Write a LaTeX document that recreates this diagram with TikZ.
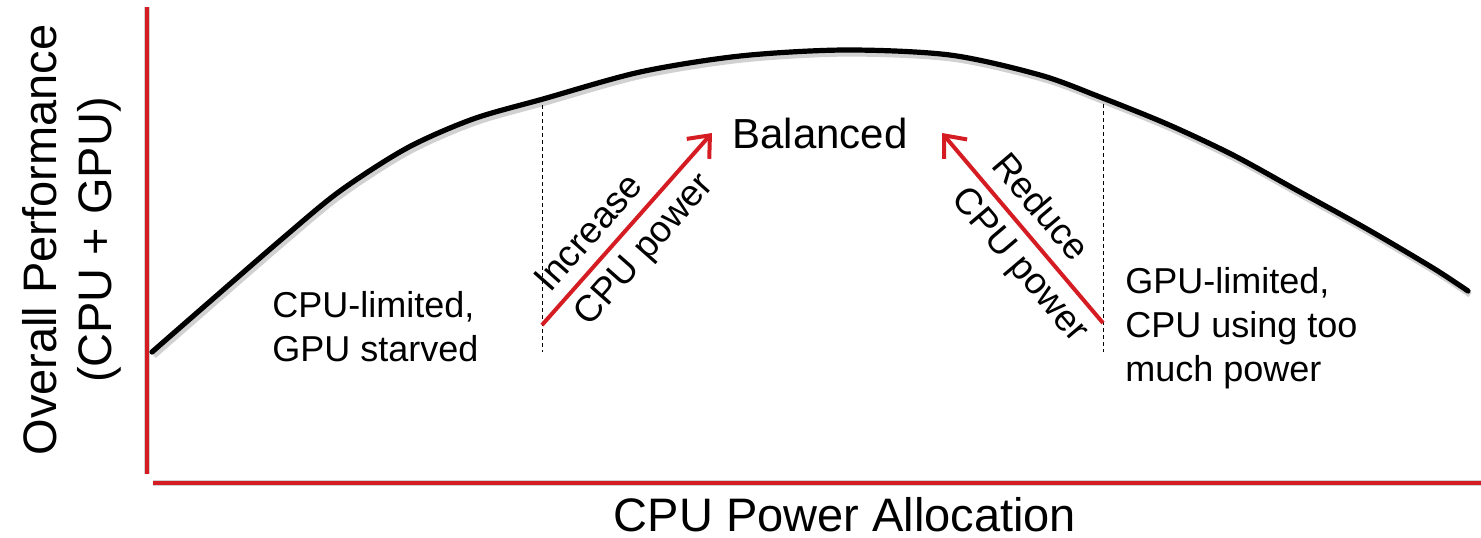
\documentclass[tikz,border=0pt]{standalone}
\usepackage{fontspec}
\setmainfont{Liberation Sans}
\usetikzlibrary{arrows.meta}
\definecolor{axred}{RGB}{212,28,34}
\tikzset{
  axis/.style={axred, line width=2pt},
  shadowline/.style={black!18, line width=2.6pt},
  perf/.style={black, line width=2.6pt, line cap=round},
  guide/.style={black, line width=0.5pt, dash pattern=on 2pt off 1.5pt},
  move/.style={axred, line width=2pt, -{Straight Barb[length=9pt,width=15pt,line width=2pt]}},
  lbl/.style={font=\fontsize{18}{22}\selectfont, inner sep=0pt},
  rlbl/.style={font=\fontsize{18.5}{26}\selectfont, inner sep=0pt, align=left},
}
\def\perfpath{plot[smooth, tension=0.5] coordinates {(152,352) (207,304) (283,238) (340,191) (407,148) (473,119) (543,99) (640,72) (740,56) (845,50) (950,55) (1040,75) (1100,97) (1167,124) (1233,155) (1300,192) (1367,229) (1433,268) (1468,291)}}
\begin{document}
\begin{tikzpicture}[x=0.5pt,y=-0.5pt]
\useasboundingbox (0,0) rectangle (1481,537);
% coordinates
\coordinate (yTop) at (147,7);
\coordinate (yBot) at (147,474);
\coordinate (xL) at (153,483);
\coordinate (xR) at (1481,483);
\coordinate (d1T) at (542,98);
\coordinate (d1B) at (542,352);
\coordinate (d2T) at (1103,97);
\coordinate (d2B) at (1103,352);
\coordinate (incS) at (542,325);
\coordinate (incE) at (712,133);
\coordinate (redS) at (1103,323);
\coordinate (redE) at (942,133);
% shadows
\begin{scope}[shift={(2,4)}]
\draw[shadowline] (yTop) -- (yBot);
\draw[shadowline] (xL) -- (xR);
\draw[shadowline] \perfpath;
\end{scope}
% axes
\draw[axis] (yTop) -- (yBot);
\draw[axis] (xL) -- (xR);
% curve
\draw[perf] \perfpath;
% guides
\draw[guide] (d1T) -- (d1B);
\draw[guide] (d2T) -- (d2B);
% arrows
\draw[move] (incS) -- (incE);
\draw[move] (redS) -- (redE);
% labels
\node[inner sep=0pt, font=\fontsize{21}{25}\selectfont] (bal) at (820,133) {Balanced};
\node[rlbl, rotate=48.5] (inc) at (626,234) {Increase\\CPU power};
\node[rlbl, rotate=-49.7] (red) at (1039,249) {Reduce\\CPU power};
\node[lbl, align=left, anchor=west] (cpul) at (272,327) {CPU-limited,\\GPU starved};
\node[lbl, align=left, anchor=west] (gpul) at (1125,328) {GPU-limited,\\CPU using too\\much power};
\node[inner sep=0pt, align=center, rotate=90, font=\fontsize{23.5}{27.5}\selectfont] (ylab) at (72,240) {Overall Performance\\(CPU + GPU)};
\node[inner sep=0pt, font=\fontsize{23.5}{28}\selectfont] (xlab) at (845,515) {CPU Power Allocation};
\end{tikzpicture}
\end{document}
